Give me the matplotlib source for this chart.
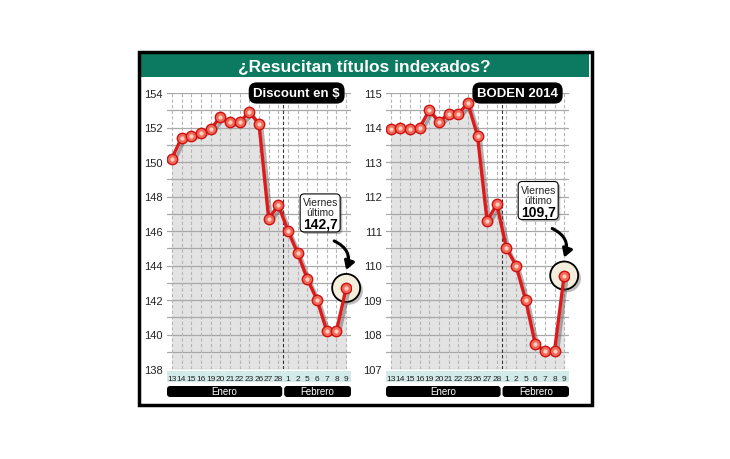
import matplotlib
matplotlib.use("Agg")
import matplotlib.pyplot as plt
import matplotlib.patheffects as pe
from matplotlib.patches import FancyBboxPatch, Rectangle, Circle

# ---------------- data ----------------
days = ["13", "14", "15", "16", "19", "20", "21", "22", "23", "26", "27", "28",
        "1", "2", "5", "6", "7", "8", "9"]
months = ["Enero", "Febrero"]
discount = [150.2, 151.4, 151.5, 151.7, 151.9, 152.6, 152.3, 152.3, 152.9, 152.2,
            146.7, 147.5, 146.0, 144.7, 143.2, 142.0, 140.2, 140.2, 142.7]
boden = [113.96, 114.0, 113.96, 114.0, 114.5, 114.16, 114.4, 114.4, 114.7, 113.76,
         111.28, 111.78, 110.5, 110.0, 109.0, 107.72, 107.53, 107.53, 109.71]
title = "¿Resucitan títulos indexados?"
panel_titles = ["Discount en $", "BODEN 2014"]
last_labels = ["142,7", "109,7"]

plt.rcParams["font.family"] = ["Liberation Sans", "DejaVu Sans"]

W, H = 730, 460
fig = plt.figure(figsize=(7.3, 4.6), dpi=100)
fig.patch.set_facecolor("white")


def fx(px):
    return px / W


def fy(py):
    return 1 - py / H


# outer frame
fig.patches.append(Rectangle((fx(139), fy(406)), fx(592) - fx(139), fy(53) - fy(406),
                             transform=fig.transFigure, facecolor="none",
                             edgecolor="black", linewidth=2.5, zorder=5))
# title bar
fig.patches.append(Rectangle((fx(141), fy(78)), fx(589) - fx(141), fy(55) - fy(78),
                             transform=fig.transFigure, facecolor="#0b7a60",
                             edgecolor="none", zorder=1))
fig.text(fx(364), fy(66.5), title, ha="center", va="center", color="white",
         fontsize=12.5, fontweight="bold", zorder=2)

panels = [
    dict(vals=discount, left=167, right=351, ylim=(138, 154), yt=range(138, 155, 2),
         grid=[138 + i for i in range(17)]),
    dict(vals=boden, left=386, right=569, ylim=(107, 115), yt=range(107, 116, 1),
         grid=[107 + 0.5 * i for i in range(17)]),
]

top, bottom = 94, 370
for k, p in enumerate(panels):
    ax = fig.add_axes([fx(p["left"]), fy(bottom), fx(p["right"]) - fx(p["left"]),
                       fy(top) - fy(bottom)])
    x = list(range(len(days)))
    ax.set_xlim(-0.5, len(days) - 0.5)
    ax.set_ylim(*p["ylim"])
    ax.set_facecolor("white")
    for s in ax.spines.values():
        s.set_visible(False)
    # fill under curve
    ax.fill_between(x, p["vals"], p["ylim"][0], color="#e3e3e3", zorder=1, linewidth=0)
    # grid
    for g in p["grid"]:
        ax.axhline(g, color="#a8a8a8", lw=0.9, zorder=2)
    for xi in x:
        ax.axvline(xi, color="#b5b5b5", lw=0.8, ls=(0, (3, 2)), zorder=2)
    ax.axvline(11.5, color="#333333", lw=0.8, ls=(0, (3, 2)), zorder=3)

    # ticks
    ax.set_yticks(list(p["yt"]))
    ax.set_yticklabels([str(v) for v in p["yt"]], fontsize=8, color="#222222")
    ax.tick_params(axis="y", length=0, pad=3)
    ax.set_xticks(x)
    ax.set_xticklabels(days, fontsize=6, color="#222222")
    ax.tick_params(axis="x", length=0, pad=4)

    h = bottom - top
    tr = ax.get_xaxis_transform()
    # tick band
    ax.add_patch(Rectangle((-0.5, -(383 - bottom) / h), len(days),
                           (383 - 372) / h, transform=tr, facecolor="#d3ebe8",
                           edgecolor="none", clip_on=False, zorder=0))
    # month bars
    y0 = -(398 - bottom) / h
    hh = (398 - 387) / h
    for (a, b), m in zip([(-0.5, 11.4), (11.6, len(days) - 0.5)], months):
        pa = ax.transData.transform((a, 0))[0]
        pb = ax.transData.transform((b, 0))[0]
        ax.add_patch(FancyBboxPatch((pa, H - 398), pb - pa, 11, transform=None,
                                    boxstyle="round,pad=0,rounding_size=3",
                                    facecolor="black", edgecolor="none", clip_on=False))
        ax.text((a + b) / 2, y0 + hh / 2, m, transform=tr, ha="center", va="center",
                color="white", fontsize=7)

    # line with shadow
    ax.plot(x, p["vals"], color="#e01a1a", lw=2.4, zorder=5, solid_joinstyle="round",
            path_effects=[pe.SimpleLineShadow(offset=(2, -2), shadow_color="#555555",
                                              alpha=0.45), pe.Normal()])

    # highlight circle around last point
    xl, yl = x[-1], p["vals"][-1]
    px_last = ax.transData.transform((xl, yl))
    circ = Circle(px_last, 14, transform=None, facecolor="#f4eedd", edgecolor="black",
                  lw=1.3, zorder=4, clip_on=False,
                  path_effects=[pe.SimplePatchShadow(offset=(2, -2), alpha=0.35),
                                pe.Normal()])
    ax.add_patch(circ)

    ax.plot(x, p["vals"], ls="none", marker="o", ms=7.5, mfc="#f06a5a", mec="#d01010",
            mew=1.0, zorder=6)
    ax.plot(x, p["vals"], ls="none", marker="o", ms=3, mfc="#ffd0c0", mec="none",
            zorder=7)

    # panel title badge
    ax.text(0.94, 1.0, panel_titles[k], transform=ax.transAxes, ha="right", va="center",
            color="white", fontsize=9.5, fontweight="bold", zorder=10,
            bbox=dict(boxstyle="round,pad=0.35,rounding_size=0.6", fc="black", ec="none"))

    # annotation box
    bx, by = px_last[0] - 26, px_last[1] + 75
    ax.add_patch(FancyBboxPatch((bx - 20, by - 19), 40, 38, transform=None,
                                boxstyle="round,pad=0,rounding_size=4",
                                facecolor="white", edgecolor="black", lw=0.8,
                                zorder=9, clip_on=False,
                                path_effects=[pe.SimplePatchShadow(offset=(1.5, -1.5),
                                                                   alpha=0.4),
                                              pe.Normal()]))
    ax.annotate("Viernes", xy=(bx, by + 11), xycoords="figure pixels",
                ha="center", va="center", fontsize=7.5, color="#222222", zorder=10)
    ax.annotate("último", xy=(bx, by + 1), xycoords="figure pixels",
                ha="center", va="center", fontsize=7.5, color="#222222", zorder=10)
    ax.annotate(last_labels[k], xy=(bx, by - 10.5), xycoords="figure pixels",
                ha="center", va="center", fontsize=10, fontweight="bold",
                color="black", zorder=11)
    # curved arrow
    ax.annotate("", xy=(px_last[0], px_last[1] + 18), xycoords="figure pixels",
                xytext=(px_last[0] - 12, px_last[1] + 47), textcoords="figure pixels",
                arrowprops=dict(arrowstyle="-|>,head_length=0.5,head_width=0.3",
                                color="black", lw=2.2, shrinkA=0, shrinkB=0,
                                connectionstyle="arc3,rad=-0.45"), zorder=10)

fig.savefig("out.png", dpi=100, facecolor="white")
